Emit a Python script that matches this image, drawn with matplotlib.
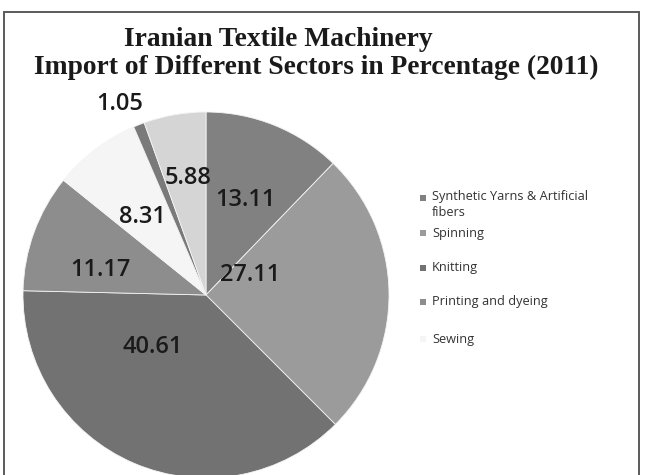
import matplotlib
matplotlib.use("Agg")
import matplotlib.pyplot as plt
from matplotlib.patches import Rectangle

# Sector shares (%) in drawing order, clockwise from 12 o'clock
values = [13.11, 27.11, 40.61, 11.17, 8.31, 1.05, 5.88]
value_labels = ["13.11", "27.11", "40.61", "11.17", "8.31", "1.05", "5.88"]
legend_names = ["Synthetic Yarns & Artificial\nfibers", "Spinning", "Knitting",
                "Printing and dyeing", "Sewing"]
title_lines = ["Iranian Textile Machinery",
               "Import of Different Sectors in Percentage (2011)"]

# Greyscale fills for the wedges
colors = ["#818181", "#9b9b9b", "#727272", "#8d8d8d", "#f5f5f5", "#7a7a7a", "#d5d5d5"]
# Label anchor points in pie units (radius = 1)
label_pos = [(0.213, 0.519), (0.240, 0.109), (-0.290, -0.284), (-0.579, 0.137),
             (-0.350, 0.426), (-0.470, 1.044), (-0.098, 0.639)]

W, H = 646, 475
fig = plt.figure(figsize=(W / 100, H / 100), dpi=100)
fig.patch.set_facecolor("white")

# Outer chart frame
frame = Rectangle((4 / W, -0.05), 635 / W, (H - 12) / H + 0.05, transform=fig.transFigure,
                  fill=False, edgecolor="#5a5a5a", linewidth=1.4)
fig.add_artist(frame)

# Pie axes: centre (206, 295) px, radius 183 px
cx, cy, r = 206, 295, 183
ax = fig.add_axes([(cx - r) / W, (H - cy - r) / H, 2 * r / W, 2 * r / H])

wedges, _ = ax.pie(values, colors=colors, startangle=90, counterclock=False,
                   radius=1.0, wedgeprops=dict(edgecolor="#f4f4f4", linewidth=0.6))
ax.set_xlim(-1, 1)
ax.set_ylim(-1, 1)
ax.set_aspect("equal")
ax.axis("off")

for txt, (lx, ly) in zip(value_labels, label_pos):
    ax.text(lx, ly, txt, ha="center", va="center", fontsize=17,
            family="Open Sans", fontweight="semibold", color="#1a1a1a")

# Title, two centred lines
fig.text(278 / W, 1 - 39 / H, title_lines[0], ha="center", va="center",
         fontsize=19.8, fontweight="bold", family="Liberation Serif", color="#1a1a1a")
fig.text(316.5 / W, 1 - 67 / H, title_lines[1], ha="center", va="center",
         fontsize=19.8, fontweight="bold", family="Liberation Serif", color="#1a1a1a")

# Legend entries
legend_y = [198, 233, 268, 302, 339]
for name, col, y in zip(legend_names, colors[:5], legend_y):
    fig.add_artist(Rectangle((420 / W, 1 - (y + 3) / H), 6 / W, 6 / H,
                             transform=fig.transFigure, facecolor=col,
                             edgecolor="none"))
    fig.text(432 / W, 1 - (y - 8) / H if "\n" in name else 1 - y / H, name,
             ha="left", va="top" if "\n" in name else "center",
             fontsize=9.2, family="Open Sans", color="#333333", linespacing=1.3)

fig.savefig("out.png", dpi=100, facecolor="white")
